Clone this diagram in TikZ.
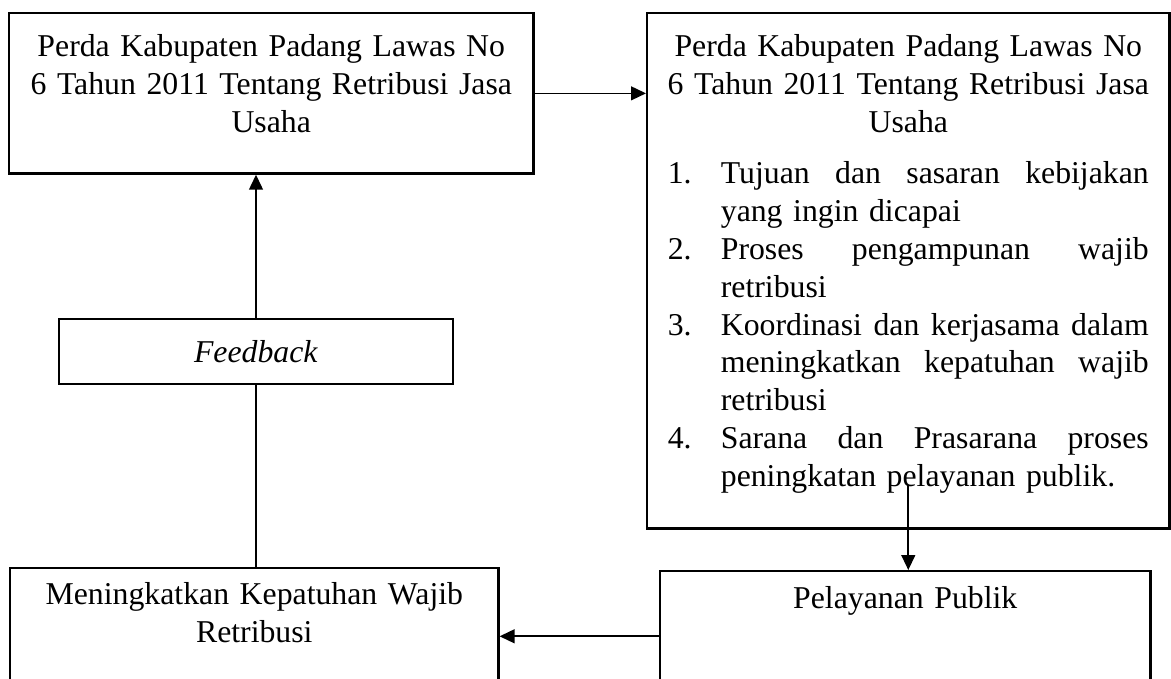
\documentclass[tikz,border=0pt]{standalone}
\usepackage{fontspec}
\setmainfont{Liberation Serif}
\usepackage{tikz}
\usetikzlibrary{arrows.meta, positioning, calc}
\newcommand{\tengah}[1]{\makebox[174.1pt]{#1}}
\newcommand{\nomor}[1]{\makebox[19.2pt][l]{#1}}
\newcommand{\penuh}[1]{\hbox to 154.9pt{\spaceskip=\fontdimen2\font plus 1fil #1}}
\newcommand{\sambung}{\hspace*{19.2pt}}

\begin{document}
\begin{tikzpicture}[
    x=0.362pt, y=-0.362pt,
    box/.style={rectangle, draw=black, line width=0.9pt, inner ysep=0pt, inner xsep=8pt,
                font=\fontsize{11.5pt}{13.7pt}\selectfont},
    arrow/.style={-{Triangle[length=5.4pt, width=5pt]}, line width=0.6pt},
    garis/.style={line width=0.6pt}
]
\useasboundingbox (0,0) rectangle (1171,679);

\node[box, anchor=north west, text width=180pt, inner xsep=4.85pt, align=center, text height=15.6pt, text depth=42.4pt] (a) at (8,12)
  {Perda Kabupaten Padang Lawas No\\6 Tahun 2011 Tentang Retribusi Jasa\\Usaha};
\node[box, anchor=north west, text width=174.1pt, inner xsep=7.45pt, align=left, text height=15.6pt, text depth=170.9pt] (b) at (646,12)
  {\tengah{Perda Kabupaten Padang Lawas No}\\
   \tengah{6 Tahun 2011 Tentang Retribusi Jasa}\\
   \tengah{Usaha}\\[5pt]
   \nomor{1.}\penuh{Tujuan dan sasaran kebijakan}\\
   \sambung yang ingin dicapai\\
   \nomor{2.}\penuh{Proses pengampunan wajib}\\
   \sambung retribusi\\
   \nomor{3.}\penuh{Koordinasi dan kerjasama dalam}\\
   \sambung\penuh{meningkatkan kepatuhan wajib}\\
   \sambung retribusi\\
   \nomor{4.}\penuh{Sarana dan Prasarana proses}\\
   \sambung peningkatan pelayanan publik.};
\node[box, anchor=north west, text width=161.4pt, align=center, text height=13.4pt, text depth=33.7pt] (c) at (659,570)
  {Pelayanan Publik};
\node[box, anchor=north west, text width=160.7pt, align=center, text height=13pt, text depth=35.1pt] (d) at (9,567)
  {Meningkatkan Kepatuhan Wajib\\Retribusi};
\node[box, minimum width=142.6pt, minimum height=23.5pt] (e) at (256,351.5) {\textit{Feedback}};

\coordinate (keluar) at ([yshift=16.3pt]b.south);
\draw[arrow] (a.east) -- (a.east -| b.west);
\draw[arrow] (keluar) -- (keluar |- c.north);
\draw[arrow] (c.west) -- (c.west -| d.east);
\draw[garis] (d.north -| e.south) -- (e.south);
\draw[arrow] (e.north) -- (e.north |- a.south);
\end{tikzpicture}
\end{document}
